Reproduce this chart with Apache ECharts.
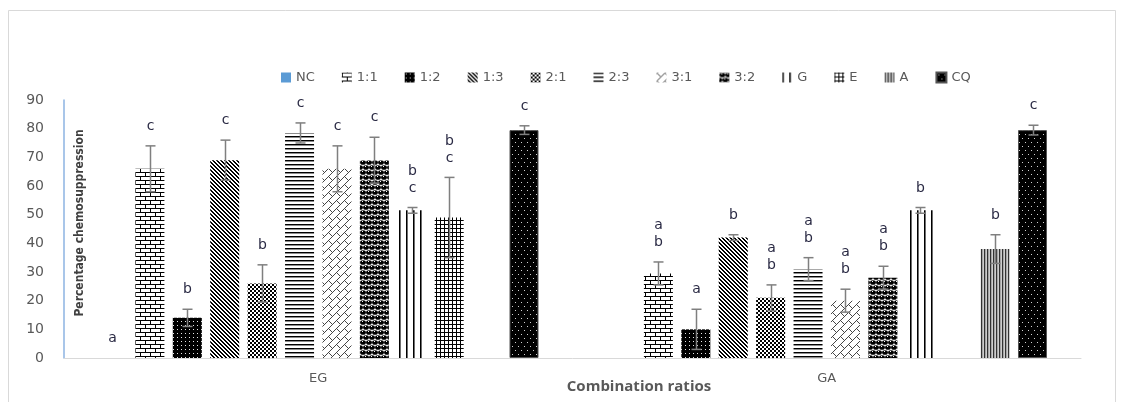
<!DOCTYPE html>
<html><head><meta charset="utf-8">
<script src="https://cdn.jsdelivr.net/npm/echarts@6/dist/echarts.min.js"></script>
<style>html,body{margin:0;padding:0;background:#fff}#c{width:1124px;height:402px}</style>
</head><body><div id="c"></div>
<script>
// ---- data ----
const categories = ['EG', 'GA'];
const seriesNames = ['NC', '1:1', '1:2', '1:3', '2:1', '2:3', '3:1', '3:2', 'G', 'E', 'A', 'CQ'];
const egValues = [0, 66, 14, 69, 26, 78.5, 66, 69, 51.5, 49, 0, 79.5];
const gaValues = [0, 29.5, 10, 42, 21, 31, 20, 28, 51.5, 0, 38, 79.5];
const egErrors = [0, 8, 3, 7, 6.5, 3.5, 8, 8, 1, 14, 0, 1.5];
const gaErrors = [0, 4, 7, 1, 4.5, 4, 4, 4, 1, 0, 5, 1.7];
const egLetters = ['a', 'c', 'b', 'c', 'b', 'c', 'c', 'c', 'b\nc', 'b\nc', '', 'c'];
const gaLetters = ['', 'a\nb', 'a', 'b', 'a\nb', 'a\nb', 'a\nb', 'a\nb', 'b', '', 'b', 'c'];
const yMin = 0, yMax = 90, yStep = 10;
const yTitle = 'Percentage chemosuppression';
const xTitle = 'Combination ratios';

const valuesByCat = [egValues, gaValues];
const errorsByCat = [egErrors, gaErrors];
const lettersByCat = [egLetters, gaLetters];

// ---- patterns ----
function tileFn(w, h, fn) {
  const c = document.createElement('canvas'); c.width = w; c.height = h;
  const g = c.getContext('2d'); const img = g.createImageData(w, h);
  for (let y = 0; y < h; y++) for (let x = 0; x < w; x++) {
    const v = fn(x, y); const k = (y * w + x) * 4;
    img.data[k] = v; img.data[k + 1] = v; img.data[k + 2] = v; img.data[k + 3] = 255;
  }
  g.putImageData(img, 0, 0);
  return { image: c, repeat: 'repeat' };
}
function tileDraw(w, h, draw) {
  const c = document.createElement('canvas'); c.width = w; c.height = h;
  const g = c.getContext('2d'); g.fillStyle = '#fff'; g.fillRect(0, 0, w, h); draw(g);
  return { image: c, repeat: 'repeat' };
}
const mod = (a, n) => ((a % n) + n) % n;
const patterns = [
  '#5B9BD5',
  tileDraw(10, 8, g => { g.fillStyle = '#000'; g.fillRect(0, 0, 10, 1); g.fillRect(0, 4, 10, 1); g.fillRect(0, 0, 1, 4); g.fillRect(5, 4, 1, 4); }),
  tileFn(4, 4, (x, y) => (x === 1 && y === 1) ? 230 : 0),
  tileFn(4, 4, (x, y) => mod(x - y, 4) < 2 ? 0 : 255),
  tileFn(4, 4, (x, y) => (((x >> 1) + (y >> 1)) & 1) ? 255 : 0),
  tileFn(1, 4, (x, y) => y === 0 ? 0 : (y === 1 ? 140 : 255)),
  tileFn(16, 16, (x, y) => {
    const s = mod(x + y, 16), d = mod(x - y, 16);
    if (mod(x + y, 8) === 0) return 70;
    if (s < 8 && d === 0) return 70;
    if (s >= 8 && d === 8) return 70;
    return 255;
  }),
  tileDraw(6, 10, g => {
    g.fillStyle = '#000';
    [[3, 2.5], [0, 7.5], [6, 7.5]].forEach(([cx, cy]) => { g.beginPath(); g.ellipse(cx, cy, 2.9, 2.3, 0, 0, Math.PI * 2); g.fill(); });
    g.fillStyle = '#fff'; g.fillRect(2, 1, 1, 1); g.fillRect(5, 6, 1, 1);
  }),
  tileFn(7, 1, x => x === 0 ? 0 : (x === 1 ? 110 : 255)),
  tileFn(4, 4, (x, y) => (x === 0 || y === 0) ? 0 : 255),
  tileFn(3, 1, x => x === 0 ? 50 : (x === 1 ? 165 : 205)),
  tileFn(12, 8, (x, y) => ((y === 2 && (x === 2 || x === 8)) || (y === 6 && (x === 5 || x === 11))) ? 210 : 0)
];

// ---- layout constants (style) ----
const BAR_W = 29, BAR_GAP = 0.29;
const STEP = BAR_W * (1 + BAR_GAP);
const N = seriesNames.length;

const barSeries = seriesNames.map((name, i) => ({
  name, type: 'bar', barWidth: BAR_W, barGap: (BAR_GAP * 100) + '%',
  data: categories.map((_, c) => valuesByCat[c][i]),
  itemStyle: Object.assign({ color: patterns[i] }, name === 'CQ' ? { borderColor: '#555', borderWidth: 1 } : {}),
  emphasis: { disabled: true }, animation: false
}));

const errData = [];
categories.forEach((_, c) => seriesNames.forEach((__, i) => {
  errData.push([c, i, valuesByCat[c][i], errorsByCat[c][i]]);
}));

const errSeries = {
  type: 'custom', name: 'err', z: 5, animation: false, silent: true,
  encode: { x: 0, y: 2 },
  data: errData,
  renderItem(params, api) {
    const c = api.value(0), i = api.value(1), v = api.value(2), e = api.value(3);
    const letter = lettersByCat[c][i];
    const x = Math.round(api.coord([c, v])[0] + (i - (N - 1) / 2) * STEP) + 0.5;
    const top = api.coord([c, v + e])[1];
    const bot = api.coord([c, v - e])[1];
    const ls = { stroke: '#7f7f7f', lineWidth: 1.5 };
    const children = [];
    if (e > 0) {
      children.push({ type: 'line', shape: { x1: x, y1: top, x2: x, y2: bot }, style: ls });
      children.push({ type: 'line', shape: { x1: x - 5, y1: top, x2: x + 5, y2: top }, style: ls });
      children.push({ type: 'line', shape: { x1: x - 5, y1: bot, x2: x + 5, y2: bot }, style: ls });
    }
    if (letter) {
      children.push({ type: 'text', style: { text: letter, x: x, y: top - 11, align: 'center', verticalAlign: 'bottom',
        font: '14px "DejaVu Sans", sans-serif', fill: '#2a2a44', lineHeight: 17 } });
    }
    return { type: 'group', children };
  }
};

const chart = echarts.init(document.getElementById('c'));
chart.setOption({
  backgroundColor: '#fff',
  animation: false,
  graphic: [
    { type: 'rect', shape: { x: 8.5, y: 10.5, width: 1107, height: 400 }, style: { fill: 'none', stroke: '#d9d9d9', lineWidth: 1 }, silent: true },
    { type: 'text', x: 80, y: 223, rotation: Math.PI / 2, silent: true,
      style: { text: yTitle, align: 'center', verticalAlign: 'middle', fill: '#404040',
        font: 'bold 12px "DejaVu Sans Condensed", sans-serif' } },
    { type: 'text', x: 639, y: 387, silent: true,
      style: { text: xTitle, align: 'center', verticalAlign: 'middle', fill: '#595959',
        font: 'bold 15px "Open Sans", sans-serif' } }
  ],
  legend: {
    data: seriesNames, left: 276, top: 66, itemWidth: 10, itemHeight: 10, itemGap: 27, icon: 'rect',
    textStyle: { color: '#595959', fontSize: 13, fontFamily: 'DejaVu Sans' }, selectedMode: false
  },
  grid: { left: 64, right: 43, top: 100, bottom: 44, containLabel: false, outerBoundsMode: 'none' },
  xAxis: {
    type: 'category', data: categories,
    axisLine: { lineStyle: { color: '#d9d9d9', width: 1 } },
    axisTick: { show: false },
    axisLabel: { color: '#595959', fontSize: 13, margin: 14, fontFamily: 'DejaVu Sans' }
  },
  yAxis: {
    type: 'value', min: yMin, max: yMax, interval: yStep,
    axisLine: { show: true, lineStyle: { color: '#8db3e2', width: 1.5 } },
    axisTick: { show: false }, splitLine: { show: false },
    axisLabel: { color: '#595959', fontSize: 14, margin: 20, fontFamily: 'DejaVu Sans' }
  },
  series: barSeries.concat([errSeries])
});
</script></body></html>
